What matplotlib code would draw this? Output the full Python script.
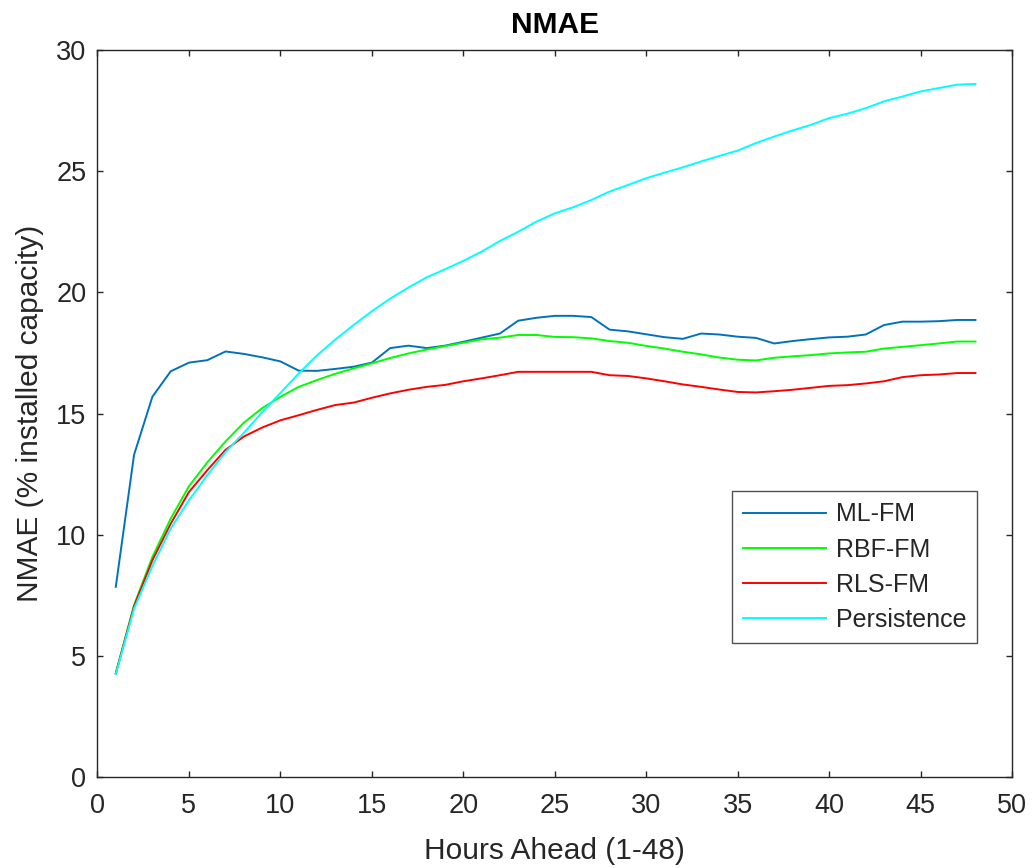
import numpy as np
import matplotlib
matplotlib.use("Agg")
import matplotlib.pyplot as plt

plt.rcParams['font.family'] = ['Liberation Sans', 'DejaVu Sans']

# hours ahead 1..48
hours = np.arange(1, 49)

ml_fm = [7.85, 13.3, 15.69, 16.74, 17.1, 17.2, 17.56, 17.46, 17.32, 17.15,
         16.77, 16.76, 16.84, 16.93, 17.1, 17.7, 17.8, 17.7, 17.8, 17.96,
         18.13, 18.3, 18.83, 18.95, 19.03, 19.03, 18.98, 18.46, 18.39, 18.27,
         18.15, 18.08, 18.3, 18.26, 18.17, 18.12, 17.89, 17.99, 18.07, 18.14,
         18.17, 18.26, 18.65, 18.79, 18.79, 18.81, 18.86, 18.86]

rbf_fm = [4.28, 7.1, 9.08, 10.66, 12.0, 12.98, 13.85, 14.62, 15.22, 15.69,
          16.1, 16.38, 16.64, 16.86, 17.07, 17.29, 17.48, 17.64, 17.78, 17.92,
          18.06, 18.13, 18.24, 18.24, 18.16, 18.15, 18.1, 17.99, 17.92, 17.79,
          17.68, 17.55, 17.44, 17.31, 17.22, 17.19, 17.3, 17.36, 17.41, 17.48,
          17.52, 17.55, 17.68, 17.75, 17.82, 17.89, 17.97, 17.97]

rls_fm = [4.28, 7.05, 8.94, 10.45, 11.76, 12.66, 13.5, 14.05, 14.42, 14.72,
          14.93, 15.15, 15.35, 15.45, 15.65, 15.83, 15.98, 16.1, 16.18, 16.33,
          16.45, 16.58, 16.72, 16.72, 16.72, 16.72, 16.72, 16.58, 16.55, 16.45,
          16.33, 16.2, 16.1, 15.99, 15.89, 15.87, 15.92, 15.98, 16.06, 16.14,
          16.17, 16.24, 16.33, 16.5, 16.58, 16.61, 16.67, 16.67]

persistence = [4.25, 6.95, 8.7, 10.25, 11.42, 12.45, 13.41, 14.2, 15.05, 15.85,
               16.65, 17.4, 18.05, 18.65, 19.22, 19.74, 20.2, 20.62, 20.95, 21.3,
               21.68, 22.12, 22.5, 22.92, 23.26, 23.51, 23.81, 24.16, 24.43, 24.71,
               24.94, 25.16, 25.4, 25.63, 25.85, 26.16, 26.43, 26.68, 26.91, 27.19,
               27.37, 27.6, 27.88, 28.08, 28.29, 28.43, 28.57, 28.6]

labels = ['ML-FM', 'RBF-FM', 'RLS-FM', 'Persistence']
colors = ['#0072BD', '#00FF00', '#FF0000', '#00FFFF']

fig = plt.figure(figsize=(10.35, 8.68), dpi=100)
ax = fig.add_axes([0.0942, 0.1048, 0.8836, 0.8376])

for series, lab, col in zip([ml_fm, rbf_fm, rls_fm, persistence], labels, colors):
    ax.plot(hours, series, color=col, lw=1.4, label=lab)

ax.set_xlim(0, 50)
ax.set_ylim(0, 30)
ax.set_xticks(np.arange(0, 51, 5))
ax.set_yticks(np.arange(0, 31, 5))

txt = '#262626'
ax.tick_params(direction='in', length=4.3, width=1.0, colors=txt,
               labelsize=19.5, top=True, right=True, pad=8)
ax.tick_params(axis='x', pad=11.5)
for s in ax.spines.values():
    s.set_color(txt)
    s.set_linewidth(1.0)

ax.set_xlabel('Hours Ahead (1-48)', fontsize=21.5, color=txt, labelpad=13)
ax.set_ylabel('NMAE (% installed capacity)', fontsize=21.5, color=txt, labelpad=9)
ax.set_title('NMAE', fontsize=21.5, fontweight='bold', color='black', pad=12)

leg = ax.legend(loc='lower right', bbox_to_anchor=(0.962, 0.184), borderaxespad=0,
                fontsize=18, frameon=True, fancybox=False, handlelength=3.3,
                handletextpad=0.4, labelspacing=0.45, borderpad=0.45)
leg.get_frame().set_edgecolor(txt)
leg.get_frame().set_linewidth(1.0)
for t in leg.get_texts():
    t.set_color(txt)

fig.savefig('out.png', dpi=100)
